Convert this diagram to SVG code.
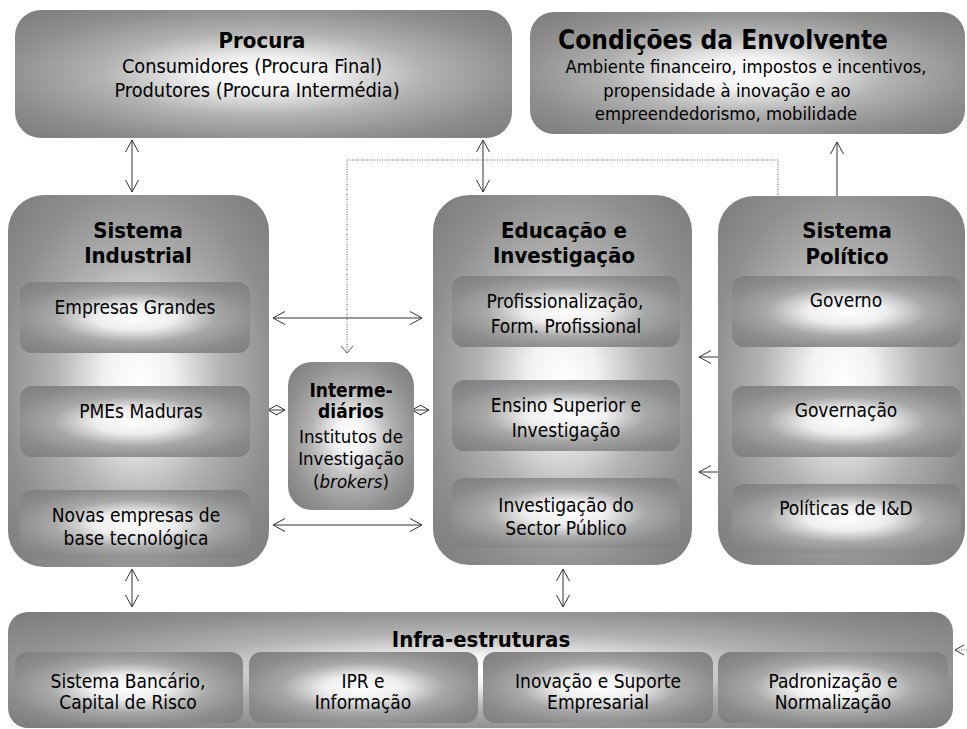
<svg xmlns="http://www.w3.org/2000/svg" width="967" height="729" viewBox="0 0 967 729">
  <defs>
    <radialGradient id="gBox" cx="0.5" cy="0.5" r="0.72">
      <stop offset="0" stop-color="#ffffff"/>
      <stop offset="0.18" stop-color="#f2f2f2"/>
      <stop offset="0.45" stop-color="#b2b2b2"/>
      <stop offset="0.72" stop-color="#8f8f8f"/>
      <stop offset="1" stop-color="#7a7a7a"/>
    </radialGradient>
    <radialGradient id="gSub" cx="0.5" cy="0.5" r="0.7">
      <stop offset="0" stop-color="#ffffff"/>
      <stop offset="0.25" stop-color="#eeeeee"/>
      <stop offset="0.5" stop-color="#a8a8a8"/>
      <stop offset="0.75" stop-color="#8c8c8c"/>
      <stop offset="1" stop-color="#7e7e7e"/>
    </radialGradient>
    <marker id="ah" viewBox="0 0 12 14" refX="12" refY="7" markerWidth="12" markerHeight="14" markerUnits="userSpaceOnUse" orient="auto-start-reverse">
      <path d="M0,0.5 L12,7 L0,13.5" fill="none" stroke="#333" stroke-width="1"/>
    </marker>
    <marker id="ahs" viewBox="0 0 9 11" refX="9" refY="5.5" markerWidth="9" markerHeight="11" markerUnits="userSpaceOnUse" orient="auto-start-reverse">
      <path d="M0,0.5 L9,5.5 L0,10.5" fill="none" stroke="#333" stroke-width="1"/>
    </marker>
    <clipPath id="clipEnv"><rect x="530" y="0" width="435" height="124"/></clipPath>
    <clipPath id="clipNovas"><rect x="0" y="480" width="280" height="75"/></clipPath>
    <clipPath id="clipEnsino"><rect x="440" y="370" width="250" height="72"/></clipPath>
    <style>
      text { font-family: "DejaVu Sans Condensed", "DejaVu Sans", sans-serif; fill: #000; text-anchor: middle; }
      .t { font-size: 22px; font-weight: bold; }
      .tl { font-size: 26px; font-weight: bold; }
      .tb { font-size: 19px; font-weight: bold; }
      .b { font-size: 19px; }
      .bp { font-size: 19.8px; }
      .bs { font-size: 18.3px; }
      .bi { font-size: 18.5px; }
      .box { fill: url(#gBox); }
      .sub { fill: url(#gSub); }
      .ln { fill: none; stroke: #333; stroke-width: 1; }
      .dot { fill: none; stroke: #555; stroke-width: 1; stroke-dasharray: 1 1.5; }
    </style>
  </defs>

  <rect width="967" height="729" fill="#ffffff"/>

  <!-- Connectors -->
  <g id="connectors">
    <!-- Procura <-> Sistema Industrial -->
    <line class="ln" x1="132" y1="140" x2="132" y2="192" marker-start="url(#ah)" marker-end="url(#ah)"/>
    <!-- Procura <-> Educacao -->
    <line class="ln" x1="483" y1="140" x2="483" y2="192" marker-start="url(#ah)" marker-end="url(#ah)"/>
    <!-- Sistema Politico -> Condicoes -->
    <line class="ln" x1="837" y1="196" x2="837" y2="142" marker-end="url(#ah)"/>
    <!-- dotted feedback line to Intermediarios -->
    <polyline class="dot" points="778,195 778,160 347,160 347,353"/>
    <path d="M341,346 L347,353 L353,346" fill="none" stroke="#555" stroke-width="1"/>
    <!-- Industrial <-> Educacao -->
    <line class="ln" x1="273" y1="318" x2="422" y2="318" marker-start="url(#ah)" marker-end="url(#ah)"/>
    <line class="ln" x1="273" y1="525" x2="422" y2="525" marker-start="url(#ah)" marker-end="url(#ah)"/>
    <!-- Intermediarios short links -->
    <line class="ln" x1="268" y1="410" x2="285" y2="410" marker-start="url(#ahs)" marker-end="url(#ahs)"/>
    <line class="ln" x1="412" y1="410" x2="429" y2="410" marker-start="url(#ahs)" marker-end="url(#ahs)"/>
    <!-- Politico -> Educacao -->
    <line class="ln" x1="718" y1="357" x2="699" y2="357" marker-end="url(#ah)"/>
    <line class="ln" x1="718" y1="472" x2="699" y2="472" marker-end="url(#ah)"/>
    <!-- inside Sistema Industrial -->
    <line class="ln" x1="48" y1="490" x2="48" y2="459" marker-end="url(#ah)"/>
    <line class="ln" x1="48" y1="386" x2="48" y2="356" marker-end="url(#ah)"/>
    <line class="ln" x1="223" y1="345" x2="223" y2="481" marker-end="url(#ah)"/>
    <!-- to Infra-estruturas -->
    <line class="ln" x1="132" y1="569" x2="132" y2="607" marker-start="url(#ah)" marker-end="url(#ah)"/>
    <line class="ln" x1="563" y1="569" x2="563" y2="607" marker-start="url(#ah)" marker-end="url(#ah)"/>
    <!-- dotted link entering Infra-estruturas from the right -->
    <line class="dot" x1="956" y1="650" x2="967" y2="650"/>
    <path d="M964,645 L955,650 L964,655" fill="none" stroke="#333" stroke-width="1"/>
  </g>

  <g id="procura">
    <rect class="box" x="15" y="10" width="497" height="128" rx="26"/>
    <text class="t" x="262" y="48">Procura</text>
    <text class="bp" x="252" y="73">Consumidores (Procura Final)</text>
    <text class="bp" x="257" y="97">Produtores (Procura Intermédia)</text>
  </g>

  <g id="condicoes">
    <rect class="box" x="530" y="12" width="435" height="122" rx="24"/>
    <text class="tl" x="723" y="49">Condições da Envolvente</text>
    <text class="bs" x="746" y="73">Ambiente financeiro, impostos e incentivos,</text>
    <text class="bs" x="727" y="97">propensidade à inovação e ao</text>
    <text class="bs" x="726" y="120" clip-path="url(#clipEnv)">empreendedorismo, mobilidade</text>
  </g>

  <g id="sistema-industrial">
    <rect class="box" x="8" y="195" width="261" height="372" rx="36"/>
    <text class="t" x="138" y="238">Sistema</text>
    <text class="t" x="138" y="263">Industrial</text>
    <g id="empresas-grandes">
      <rect class="sub" x="20" y="282" width="230" height="71" rx="12"/>
      <text class="b" x="135" y="314">Empresas Grandes</text>
    </g>
    <g id="pmes-maduras">
      <rect class="sub" x="20" y="386" width="230" height="71" rx="12"/>
      <text class="b" x="141" y="418">PMEs Maduras</text>
    </g>
    <g id="novas-empresas">
      <rect class="sub" x="20" y="490" width="230" height="68" rx="12"/>
      <text class="b" x="136" y="522">Novas empresas de</text>
      <text class="b" x="136" y="545" clip-path="url(#clipNovas)">base tecnológica</text>
    </g>
  </g>

  <g id="intermediarios">
    <rect class="box" x="288" y="362" width="126" height="148" rx="24"/>
    <text class="tb" x="351" y="397">Interme-</text>
    <text class="tb" x="351" y="418">diários</text>
    <text class="bi" x="351" y="443">Institutos de</text>
    <text class="bi" x="351" y="465">Investigação</text>
    <text class="bi" x="351" y="488">(<tspan font-style="italic">brokers</tspan>)</text>
  </g>

  <g id="educacao-investigacao">
    <rect class="box" x="433" y="195" width="259" height="370" rx="36"/>
    <text class="t" x="564" y="238">Educação e</text>
    <text class="t" x="564" y="263">Investigação</text>
    <g id="profissionalizacao">
      <rect class="sub" x="452" y="276" width="228" height="71" rx="12"/>
      <text class="b" x="565" y="308">Profissionalização,</text>
      <text class="b" x="566" y="333">Form. Profissional</text>
    </g>
    <g id="ensino-superior">
      <rect class="sub" x="452" y="380" width="228" height="71" rx="12"/>
      <text class="b" x="566" y="412">Ensino Superior e</text>
      <text class="b" x="566" y="437" clip-path="url(#clipEnsino)">Investigação</text>
    </g>
    <g id="investigacao-publica">
      <rect class="sub" x="452" y="478" width="228" height="70" rx="12"/>
      <text class="b" x="566" y="512">Investigação do</text>
      <text class="b" x="566" y="535">Sector Público</text>
    </g>
  </g>

  <g id="sistema-politico">
    <rect class="box" x="718" y="196" width="247" height="369" rx="36"/>
    <text class="t" x="847" y="238">Sistema</text>
    <text class="t" x="847" y="264">Político</text>
    <g id="governo">
      <rect class="sub" x="732" y="276" width="229" height="71" rx="12"/>
      <text class="b" x="846" y="307">Governo</text>
    </g>
    <g id="governacao">
      <rect class="sub" x="732" y="386" width="229" height="71" rx="12"/>
      <text class="b" x="846" y="417">Governação</text>
    </g>
    <g id="politicas-id">
      <rect class="sub" x="732" y="484" width="229" height="69" rx="12"/>
      <text class="b" x="846" y="515">Políticas de I&amp;D</text>
    </g>
  </g>

  <g id="infra-estruturas">
    <rect class="box" x="8" y="612" width="945" height="116" rx="20"/>
    <text class="t" x="481" y="647">Infra-estruturas</text>
    <g id="sistema-bancario">
      <rect class="sub" x="15" y="652" width="228" height="71" rx="12"/>
      <text class="b" x="128" y="688">Sistema Bancário,</text>
      <text class="b" x="128" y="709">Capital de Risco</text>
    </g>
    <g id="ipr">
      <rect class="sub" x="249" y="652" width="229" height="71" rx="12"/>
      <text class="b" x="363" y="688">IPR e</text>
      <text class="b" x="363" y="709">Informação</text>
    </g>
    <g id="inovacao-suporte">
      <rect class="sub" x="483" y="652" width="230" height="71" rx="12"/>
      <text class="b" x="598" y="688">Inovação e Suporte</text>
      <text class="b" x="598" y="709">Empresarial</text>
    </g>
    <g id="padronizacao">
      <rect class="sub" x="718" y="652" width="230" height="71" rx="12"/>
      <text class="b" x="833" y="688">Padronização e</text>
      <text class="b" x="833" y="709">Normalização</text>
    </g>
  </g>
</svg>
